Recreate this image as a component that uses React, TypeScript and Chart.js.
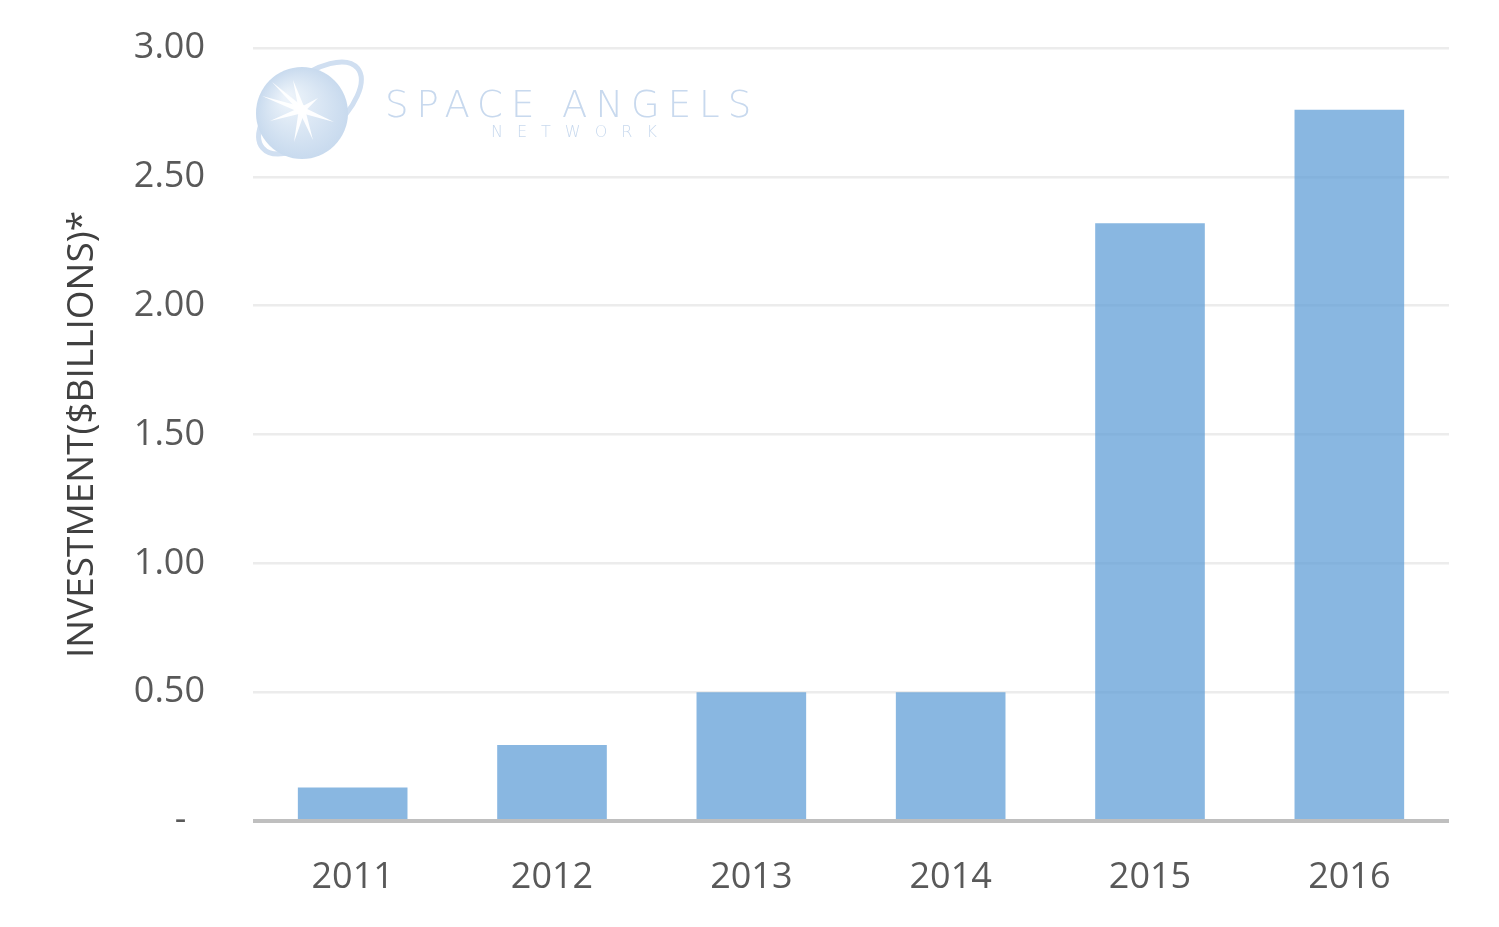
import React, { useEffect, useRef } from "react";
import { Chart, registerables } from "chart.js";
Chart.register(...registerables);

const years = ["2011", "2012", "2013", "2014", "2015", "2016"];
const investment = [0.13, 0.295, 0.5, 0.5, 2.32, 2.76];
const yMin = 0;
const yMax = 3;
const yStep = 0.5;
const yTitle = "INVESTMENT($BILLIONS)*";
const brandTop = "SPACE ANGELS";
const brandBottom = "NETWORK";

const watermark = {
  id: "watermark",
  beforeDatasetsDraw(chart: any) {
    const ctx = chart.ctx as CanvasRenderingContext2D;
    ctx.save();
    const cx = 302, cy = 113, r = 46;
    // orbit ring (behind the globe)
    ctx.strokeStyle = "rgb(208,223,241)";
    ctx.lineWidth = 5;
    ctx.beginPath();
    ctx.ellipse(310, 108, 62, 30, -Math.PI / 4.5, 0, Math.PI * 2);
    ctx.stroke();
    const g = ctx.createRadialGradient(cx - 14, cy - 16, 4, cx, cy, r);
    g.addColorStop(0, "rgb(236,243,250)");
    g.addColorStop(1, "rgb(200,218,238)");
    ctx.fillStyle = g;
    ctx.beginPath();
    ctx.arc(cx, cy, r, 0, Math.PI * 2);
    ctx.fill();
    // star spikes
    ctx.fillStyle = "rgba(255,255,255,0.95)";
    const sx = 302, sy = 110;
    const spikes: [number, number][] = [
      [272, 82], [262, 96], [270, 121], [293, 80], [318, 98], [334, 122], [294, 142], [313, 140]
    ];
    for (const [tx, ty] of spikes) {
      const dx = tx - sx, dy = ty - sy;
      const len = Math.hypot(dx, dy);
      const nx = -dy / len * 3.2, ny = dx / len * 3.2;
      ctx.beginPath();
      ctx.moveTo(sx + nx, sy + ny);
      ctx.lineTo(tx, ty);
      ctx.lineTo(sx - nx, sy - ny);
      ctx.closePath();
      ctx.fill();
    }
    ctx.beginPath();
    ctx.arc(sx, sy, 5, 0, Math.PI * 2);
    ctx.fill();
    // brand text
    ctx.fillStyle = "rgb(200,217,238)";
    ctx.textBaseline = "alphabetic";
    ctx.textAlign = "left";
    ctx.font = '200 37px "DejaVu Sans"';
    (ctx as any).letterSpacing = "8px";
    ctx.fillText(brandTop, 385, 117);
    ctx.font = '300 16px "DejaVu Sans"';
    (ctx as any).letterSpacing = "14px";
    ctx.fillText(brandBottom, 491, 137);
    ctx.restore();
  },
};

export default function App() {
  const ref = useRef<HTMLCanvasElement>(null);
  useEffect(() => {
    if (!ref.current) return;
    const chart = new Chart(ref.current, {
      type: "bar",
      data: {
        labels: years,
        datasets: [
          {
            data: investment,
            backgroundColor: "rgba(91,155,213,0.72)",
            borderWidth: 0,
            categoryPercentage: 1,
            barPercentage: 0.55,
          },
        ],
      },
      plugins: [watermark],
      options: {
        animation: false,
        responsive: true,
        maintainAspectRatio: false,
        layout: { padding: { top: 48, right: 50, bottom: 0, left: 0 } },
        plugins: { legend: { display: false }, tooltip: { enabled: false } },
        scales: {
          x: {
            grid: { display: false, drawTicks: false },
            border: { display: false },
            ticks: {
              color: "#595959",
              font: { family: "'Open Sans'", size: 36 },
              padding: 35,
              maxRotation: 0,
            },
            afterFit: (s: any) => { s.height = 106; },
          },
          y: {
            min: yMin,
            max: yMax,
            ticks: {
              stepSize: yStep,
              color: "#595959",
              font: { family: "'Open Sans'", size: 36 },
              padding: 48,
              callback: (v: any) => (Number(v) === 0 ? "-  " : Number(v).toFixed(2)),
            },
            grid: {
              drawTicks: false,
              color: (c: any) => (c.tick && c.tick.value === 0 ? "#bfbfbf" : "#ececec"),
              lineWidth: (c: any) => (c.tick && c.tick.value === 0 ? 4 : 2.5),
            },
            border: { display: false },
            title: {
              display: true,
              text: yTitle,
              color: "#404040",
              font: { family: "'Open Sans'", size: 37 },
              padding: { top: 60, bottom: 0 },
            },
            afterFit: (s: any) => {
              s.width = 253;
              s.paddingTop = 0;
              s.paddingBottom = 0;
            },
          },
        },
      },
    });
    return () => chart.destroy();
  }, []);
  return (
    <div style={{ position: "absolute", left: 0, top: 0, width: 1499, height: 927, background: "#fff" }}>
      <canvas ref={ref} />
    </div>
  );
}
